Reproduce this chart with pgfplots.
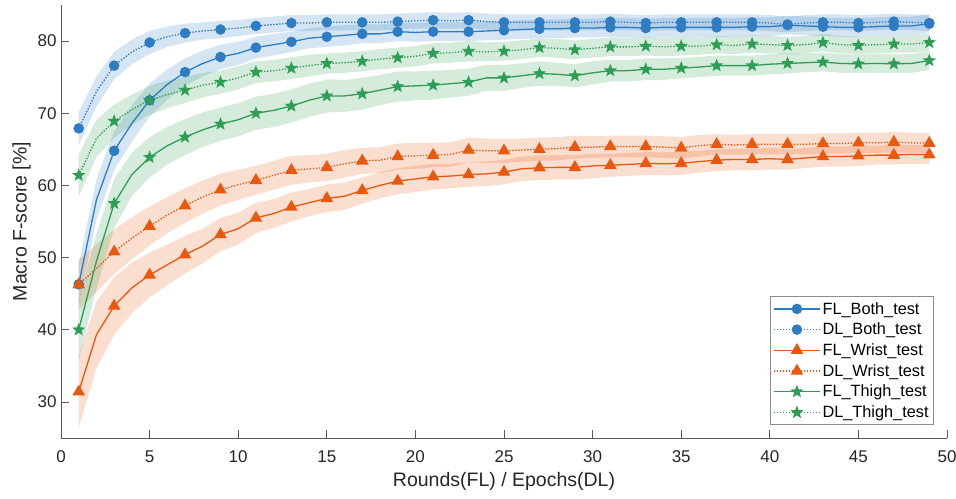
\documentclass[border=0pt]{standalone}
\usepackage{fontspec}
\setmainfont{Liberation Sans}
\usepackage{pgfplots}
\pgfplotsset{compat=1.18}
\usepackage{pgfplotstable}
\usepgfplotslibrary{fillbetween}

\definecolor{cB}{rgb}{0.18,0.49,0.76}
\definecolor{cO}{rgb}{0.91,0.35,0.06}
\definecolor{cG}{rgb}{0.18,0.62,0.33}

\pgfdeclareplotmark{fstar}{%
  \pgfpathmoveto{\pgfpointpolar{90}{\pgfplotmarksize}}%
  \pgfpathlineto{\pgfpointpolar{126}{0.42\pgfplotmarksize}}%
  \pgfpathlineto{\pgfpointpolar{162}{\pgfplotmarksize}}%
  \pgfpathlineto{\pgfpointpolar{198}{0.42\pgfplotmarksize}}%
  \pgfpathlineto{\pgfpointpolar{234}{\pgfplotmarksize}}%
  \pgfpathlineto{\pgfpointpolar{270}{0.42\pgfplotmarksize}}%
  \pgfpathlineto{\pgfpointpolar{306}{\pgfplotmarksize}}%
  \pgfpathlineto{\pgfpointpolar{342}{0.42\pgfplotmarksize}}%
  \pgfpathlineto{\pgfpointpolar{18}{\pgfplotmarksize}}%
  \pgfpathlineto{\pgfpointpolar{54}{0.42\pgfplotmarksize}}%
  \pgfpathclose
  \pgfusepathqfill}

% x = round/epoch, y = mean macro F-score, e = half width of shaded band
\pgfplotstableread{
x y e
1 46.3 2.8
2 58.0 2.8
3 64.8 2.7
4 68.6 2.5
5 71.8 2.3
6 74.0 2.1
7 75.7 1.9
8 76.9 1.8
9 77.8 1.7
10 78.3 1.6
11 79.1 1.5
12 79.5 1.5
13 79.9 1.4
14 80.4 1.4
15 80.6 1.4
16 80.8 1.4
17 81.0 1.3
18 81.0 1.3
19 81.3 1.3
20 81.2 1.3
21 81.3 1.3
22 81.3 1.3
23 81.3 1.3
24 81.4 1.3
25 81.5 1.3
26 81.6 1.3
27 81.7 1.3
28 81.7 1.3
29 81.8 1.3
30 81.8 1.3
31 81.9 1.3
32 81.9 1.3
33 81.8 1.3
34 81.9 1.3
35 81.9 1.3
36 81.9 1.3
37 81.9 1.3
38 81.9 1.3
39 82.0 1.3
40 82.0 1.3
41 82.2 1.3
42 82.1 1.3
43 82.0 1.3
44 81.9 1.3
45 81.9 1.3
46 82.0 1.3
47 82.1 1.3
48 82.1 1.3
49 82.4 1.3
}\flboth

\pgfplotstableread{
x y e
1 67.9 2.3
2 73.0 2.1
3 76.6 1.9
4 78.5 1.7
5 79.8 1.6
6 80.6 1.4
7 81.1 1.3
8 81.4 1.2
9 81.6 1.2
10 81.8 1.1
11 82.1 1.1
12 82.3 1.1
13 82.5 1.1
14 82.5 1.1
15 82.6 1.1
16 82.6 1.1
17 82.6 1.1
18 82.6 1.1
19 82.7 1.1
20 82.8 1.1
21 82.9 1.1
22 82.8 1.1
23 82.9 1.1
24 82.7 1.1
25 82.6 1.1
26 82.6 1.1
27 82.6 1.1
28 82.6 1.1
29 82.6 1.1
30 82.6 1.1
31 82.7 1.1
32 82.6 1.1
33 82.5 1.1
34 82.6 1.1
35 82.6 1.1
36 82.6 1.1
37 82.6 1.1
38 82.6 1.1
39 82.6 1.1
40 82.5 1.1
41 82.3 1.1
42 82.5 1.1
43 82.6 1.1
44 82.6 1.1
45 82.5 1.1
46 82.6 1.1
47 82.7 1.1
48 82.6 1.1
49 82.5 1.1
}\dlboth

\pgfplotstableread{
x y e
1 31.4 5.0
2 39.3 4.6
3 43.3 4.0
4 45.8 3.5
5 47.6 3.1
6 49.0 2.8
7 50.4 2.6
8 51.6 2.4
9 53.2 2.3
10 54.0 2.2
11 55.5 2.1
12 56.1 2.0
13 57.0 2.0
14 57.6 1.9
15 58.2 1.9
16 58.5 1.9
17 59.3 1.8
18 60.0 1.8
19 60.6 1.8
20 60.9 1.8
21 61.2 1.8
22 61.3 1.7
23 61.5 1.7
24 61.6 1.7
25 61.85 1.7
26 62.3 1.7
27 62.45 1.7
28 62.5 1.7
29 62.5 1.7
30 62.7 1.7
31 62.8 1.6
32 62.9 1.6
33 63.05 1.6
34 63.0 1.6
35 63.05 1.6
36 63.3 1.5
37 63.5 1.5
38 63.6 1.5
39 63.6 1.5
40 63.7 1.5
41 63.6 1.4
42 63.8 1.4
43 64.0 1.4
44 64.0 1.4
45 64.1 1.4
46 64.2 1.3
47 64.2 1.3
48 64.3 1.3
49 64.25 1.3
}\flwrist

\pgfplotstableread{
x y e
1 46.25 3.5
2 48.5 3.3
3 50.8 3.1
4 52.7 2.9
5 54.35 2.7
6 55.9 2.5
7 57.2 2.4
8 58.4 2.3
9 59.4 2.2
10 60.1 2.1
11 60.7 2.0
12 61.4 2.0
13 62.1 2.0
14 62.3 1.9
15 62.5 1.9
16 63.0 1.9
17 63.4 1.8
18 63.5 1.8
19 64.0 1.8
20 64.1 1.8
21 64.2 1.7
22 64.3 1.7
23 64.9 1.7
24 64.8 1.7
25 64.8 1.7
26 64.9 1.6
27 65.0 1.6
28 65.1 1.6
29 65.3 1.6
30 65.3 1.5
31 65.4 1.5
32 65.4 1.5
33 65.4 1.5
34 65.3 1.5
35 65.2 1.5
36 65.5 1.5
37 65.7 1.4
38 65.6 1.4
39 65.7 1.4
40 65.7 1.4
41 65.7 1.4
42 65.7 1.4
43 65.8 1.4
44 65.8 1.4
45 65.9 1.4
46 65.9 1.4
47 66.0 1.4
48 65.9 1.4
49 65.85 1.4
}\dlwrist

\pgfplotstableread{
x y e
1 40.0 4.2
2 49.5 3.8
3 57.5 3.4
4 61.5 3.0
5 63.9 2.8
6 65.5 2.6
7 66.7 2.5
8 67.7 2.4
9 68.5 2.3
10 69.1 2.3
11 70.0 2.3
12 70.4 2.3
13 71.0 2.3
14 71.8 2.3
15 72.4 2.3
16 72.4 2.2
17 72.7 2.2
18 73.2 2.1
19 73.7 2.1
20 73.8 2.0
21 73.9 2.0
22 74.1 1.9
23 74.3 1.9
24 74.9 1.8
25 74.9 1.8
26 75.2 1.7
27 75.5 1.7
28 75.4 1.6
29 75.2 1.6
30 75.6 1.6
31 75.9 1.5
32 75.9 1.5
33 76.1 1.5
34 76.1 1.5
35 76.25 1.4
36 76.4 1.4
37 76.6 1.4
38 76.6 1.4
39 76.6 1.4
40 76.8 1.4
41 76.9 1.4
42 77.0 1.3
43 77.1 1.3
44 76.9 1.3
45 76.85 1.3
46 76.9 1.3
47 76.85 1.3
48 76.9 1.3
49 77.3 1.3
}\flthigh

\pgfplotstableread{
x y e
1 61.4 2.9
2 66.5 2.6
3 68.9 2.3
4 70.5 2.1
5 71.8 2.0
6 72.6 1.9
7 73.2 1.8
8 73.9 1.7
9 74.3 1.6
10 74.9 1.6
11 75.7 1.5
12 75.9 1.5
13 76.25 1.5
14 76.6 1.5
15 76.9 1.4
16 77.0 1.4
17 77.2 1.4
18 77.5 1.4
19 77.7 1.4
20 77.9 1.4
21 78.3 1.4
22 78.4 1.4
23 78.6 1.4
24 78.5 1.3
25 78.6 1.3
26 78.8 1.3
27 79.1 1.3
28 79.0 1.3
29 78.8 1.3
30 79.0 1.3
31 79.2 1.3
32 79.2 1.3
33 79.3 1.3
34 79.2 1.3
35 79.3 1.3
36 79.3 1.2
37 79.5 1.2
38 79.4 1.2
39 79.6 1.2
40 79.5 1.2
41 79.4 1.2
42 79.5 1.2
43 79.8 1.2
44 79.5 1.2
45 79.4 1.2
46 79.5 1.2
47 79.6 1.2
48 79.6 1.2
49 79.8 1.2
}\dlthigh

\newcommand{\band}[3]{%
  \addplot[draw=none, forget plot, name path=#2u] table[x=x, y expr=\thisrow{y}+\thisrow{e}] {#1};
  \addplot[draw=none, forget plot, name path=#2l] table[x=x, y expr=\thisrow{y}-\thisrow{e}] {#1};
  \addplot[fill=#3, fill opacity=0.2, draw=none, forget plot] fill between[of=#2u and #2l];
}

\begin{document}
\begin{tikzpicture}
\begin{axis}[
  name=ax,
  width=886pt, height=433pt, scale only axis,
  xmin=0, xmax=50, ymin=25, ymax=85,
  axis x line*=bottom, axis y line*=left,
  axis line style={black!65, line width=0.8pt},
  xtick={0,5,...,50}, ytick={30,40,...,80},
  tick align=inside, major tick length=8pt,
  tick style={black!65, line width=0.8pt},
  /pgf/number format/assume math mode=true,
  ticklabel style={font=\fontsize{17}{20}\selectfont, text=black!85},
  xticklabel style={yshift=-9pt},
  yticklabel style={xshift=-1pt},
  xlabel={Rounds(FL) / Epochs(DL)},
  ylabel={Macro F-score [\%]},
  label style={font=\fontsize{19.5}{22}\selectfont, text=black!85},
  xlabel style={yshift=-3pt},
  ylabel style={yshift=0pt},
  legend cell align=left,
  legend style={at={(0.9853,0.030)}, anchor=south east, draw=black!45, line width=0.8pt,
    font=\fontsize{16.3}{19}\selectfont, inner xsep=3pt, inner ysep=3.5pt, row sep=3.4pt},
  legend image code/.code={%
    \draw[mark repeat=2, mark phase=2] plot coordinates {(0pt,0pt) (23pt,0pt) (46pt,0pt)};},
]
\band{\flboth}{a}{cB}
\band{\dlboth}{b}{cB}
\band{\flwrist}{c}{cO}
\band{\dlwrist}{d}{cO}
\band{\flthigh}{e}{cG}
\band{\dlthigh}{f}{cG}

\addplot[cB, line width=1.3pt, mark=*, mark size=4.6pt, mark repeat=2, mark options={solid, fill=cB}] table[x=x, y=y] {\flboth};
\addlegendentry{FL\_Both\_test}
\addplot[cB, line width=1.3pt, dash pattern=on 1.4pt off 1.6pt, mark=*, mark size=4.6pt, mark repeat=2, mark options={solid, fill=cB}] table[x=x, y=y] {\dlboth};
\addlegendentry{DL\_Both\_test}
\addplot[cO, line width=1.3pt, mark=triangle*, mark size=6pt, mark repeat=2, mark options={solid, fill=cO}] table[x=x, y=y] {\flwrist};
\addlegendentry{FL\_Wrist\_test}
\addplot[cO, line width=1.3pt, dash pattern=on 1.4pt off 1.6pt, mark=triangle*, mark size=6pt, mark repeat=2, mark options={solid, fill=cO}] table[x=x, y=y] {\dlwrist};
\addlegendentry{DL\_Wrist\_test}
\addplot[cG, line width=1.3pt, mark=fstar, mark size=7pt, mark repeat=2, mark options={solid, fill=cG}] table[x=x, y=y] {\flthigh};
\addlegendentry{FL\_Thigh\_test}
\addplot[cG, line width=1.3pt, dash pattern=on 1.4pt off 1.6pt, mark=fstar, mark size=7pt, mark repeat=2, mark options={solid, fill=cG}] table[x=x, y=y] {\dlthigh};
\addlegendentry{DL\_Thigh\_test}
\end{axis}
\pgfresetboundingbox
\path[use as bounding box] ([shift={(-61pt,-60pt)}]ax.south west) rectangle ([shift={(9pt,5pt)}]ax.north east);
\end{tikzpicture}
\end{document}
